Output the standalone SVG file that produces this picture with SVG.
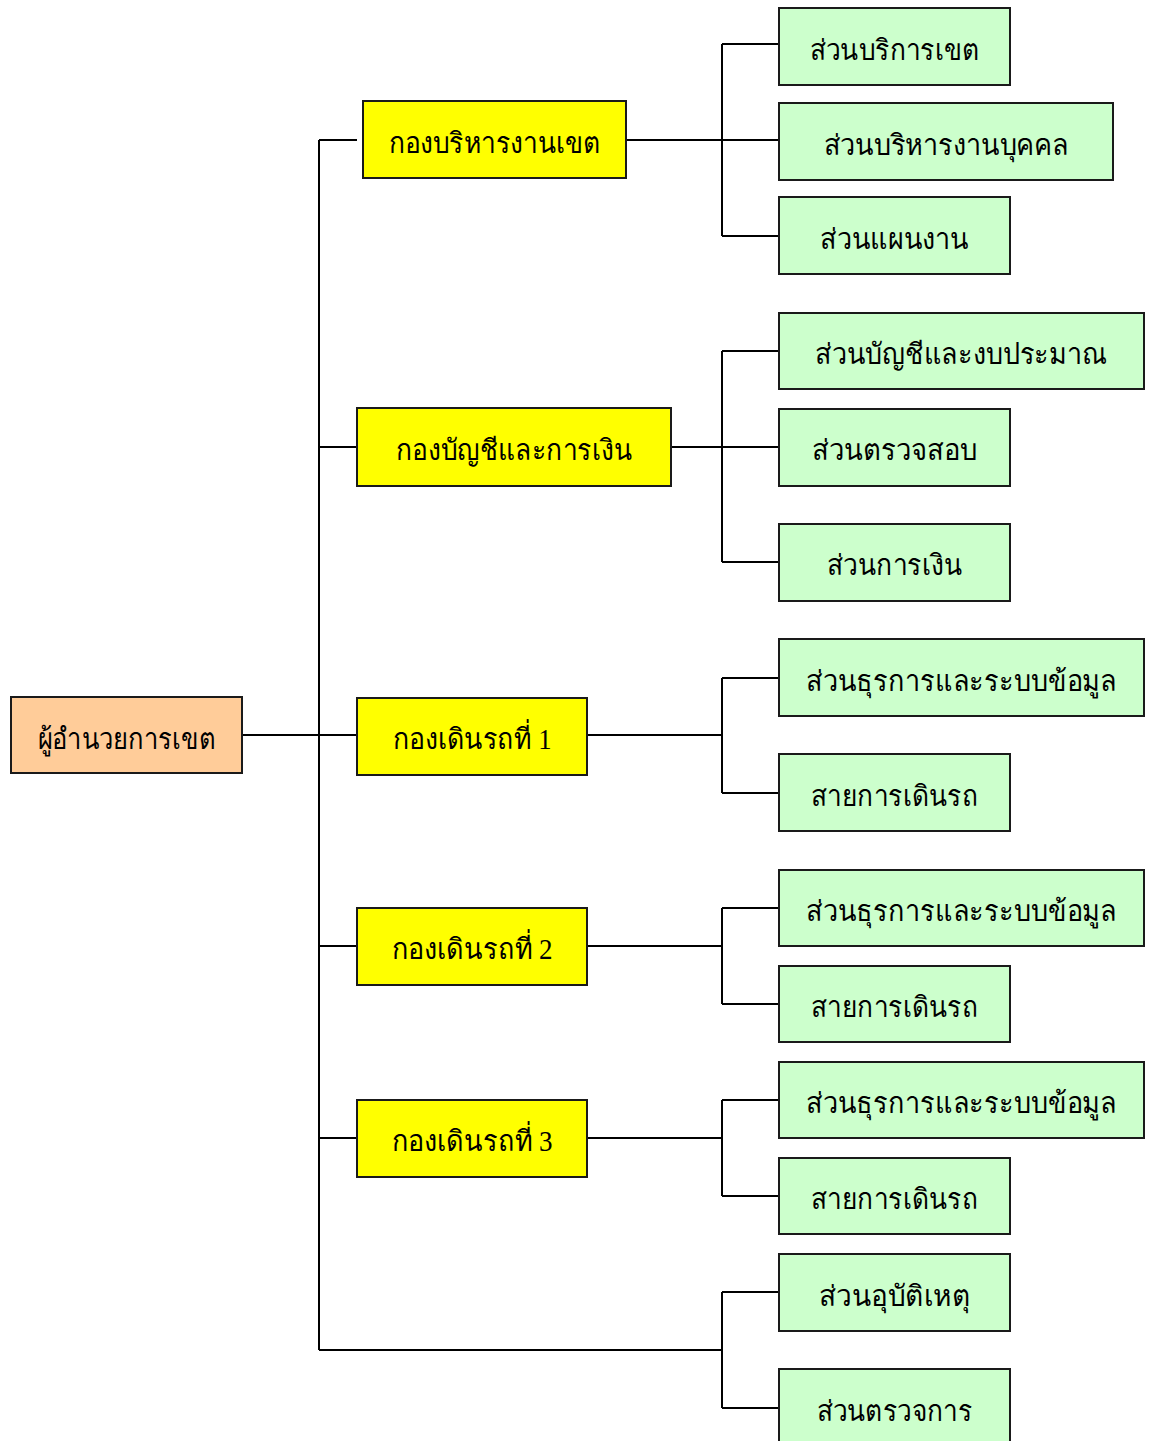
<svg xmlns="http://www.w3.org/2000/svg" width="1150" height="1441" viewBox="0 0 1150 1441">
<style>
.box{stroke:#1a1a1a;stroke-width:2}
.root{fill:#FFCC99}
.div{fill:#FFFF00}
.sec{fill:#CCFFCC}
.lbl{font-family:"Liberation Serif","Noto Sans","DejaVu Sans",serif;font-size:29px;fill:#000;text-anchor:middle}
.con{fill:none;stroke:#000;stroke-width:2}
</style>
<rect width="1150" height="1441" fill="#fff"/>
<g id="connectors">
<path class="con" d="M242 735H357M319 140V1350M319 140H357M319 447H357M319 946H357M319 1138H357M319 1350H722"/>
<path class="con" d="M626 140H779M722 44V236M722 44H779M722 236H779"/>
<path class="con" d="M664 447H779M722 351V562M722 351H779M722 562H779"/>
<path class="con" d="M587 735H722M722 678V793M722 678H779M722 793H779"/>
<path class="con" d="M587 946H722M722 908V1004M722 908H779M722 1004H779"/>
<path class="con" d="M587 1138H722M722 1100V1196M722 1100H779M722 1196H779"/>
<path class="con" d="M722 1292V1408M722 1292H779M722 1408H779"/>
</g>
<g id="root"><rect class="box root" x="11" y="697" width="231" height="76"/><text class="lbl" x="126.5" y="749" textLength="178" lengthAdjust="spacingAndGlyphs">ผู้อำนวยการเขต</text></g>
<g id="div1"><rect class="box div" x="363" y="101" width="263" height="77"/><text class="lbl" x="494.5" y="153" textLength="212" lengthAdjust="spacingAndGlyphs">กองบริหารงานเขต</text></g>
<g id="div2"><rect class="box div" x="357" y="408" width="314" height="78"/><text class="lbl" x="514" y="460" textLength="236" lengthAdjust="spacingAndGlyphs">กองบัญชีและการเงิน</text></g>
<g id="div3"><rect class="box div" x="357" y="698" width="230" height="77"/><text class="lbl" x="472" y="749" textLength="159" lengthAdjust="spacingAndGlyphs">กองเดินรถที่ 1</text></g>
<g id="div4"><rect class="box div" x="357" y="908" width="230" height="77"/><text class="lbl" x="472" y="959" textLength="161" lengthAdjust="spacingAndGlyphs">กองเดินรถที่ 2</text></g>
<g id="div5"><rect class="box div" x="357" y="1100" width="230" height="77"/><text class="lbl" x="472" y="1151" textLength="161" lengthAdjust="spacingAndGlyphs">กองเดินรถที่ 3</text></g>
<g id="sec1"><rect class="box sec" x="779" y="8" width="231" height="77"/><text class="lbl" x="894.5" y="60" textLength="170" lengthAdjust="spacingAndGlyphs">ส่วนบริการเขต</text></g>
<g id="sec2"><rect class="box sec" x="779" y="103" width="334" height="77"/><text class="lbl" x="946" y="155" textLength="245" lengthAdjust="spacingAndGlyphs">ส่วนบริหารงานบุคคล</text></g>
<g id="sec3"><rect class="box sec" x="779" y="197" width="231" height="77"/><text class="lbl" x="894.5" y="249" textLength="149" lengthAdjust="spacingAndGlyphs">ส่วนแผนงาน</text></g>
<g id="sec4"><rect class="box sec" x="779" y="313" width="365" height="76"/><text class="lbl" x="961" y="364" textLength="292" lengthAdjust="spacingAndGlyphs">ส่วนบัญชีและงบประมาณ</text></g>
<g id="sec5"><rect class="box sec" x="779" y="409" width="231" height="77"/><text class="lbl" x="894.5" y="460" textLength="166" lengthAdjust="spacingAndGlyphs">ส่วนตรวจสอบ</text></g>
<g id="sec6"><rect class="box sec" x="779" y="524" width="231" height="77"/><text class="lbl" x="894.5" y="575" textLength="135" lengthAdjust="spacingAndGlyphs">ส่วนการเงิน</text></g>
<g id="sec7"><rect class="box sec" x="779" y="639" width="365" height="77"/><text class="lbl" x="961.5" y="691" textLength="311" lengthAdjust="spacingAndGlyphs">ส่วนธุรการและระบบข้อมูล</text></g>
<g id="sec8"><rect class="box sec" x="779" y="754" width="231" height="77"/><text class="lbl" x="894.5" y="806" textLength="167" lengthAdjust="spacingAndGlyphs">สายการเดินรถ</text></g>
<g id="sec9"><rect class="box sec" x="779" y="870" width="365" height="76"/><text class="lbl" x="961.5" y="921" textLength="311" lengthAdjust="spacingAndGlyphs">ส่วนธุรการและระบบข้อมูล</text></g>
<g id="sec10"><rect class="box sec" x="779" y="966" width="231" height="76"/><text class="lbl" x="894.5" y="1017" textLength="167" lengthAdjust="spacingAndGlyphs">สายการเดินรถ</text></g>
<g id="sec11"><rect class="box sec" x="779" y="1062" width="365" height="76"/><text class="lbl" x="961.5" y="1113" textLength="311" lengthAdjust="spacingAndGlyphs">ส่วนธุรการและระบบข้อมูล</text></g>
<g id="sec12"><rect class="box sec" x="779" y="1158" width="231" height="76"/><text class="lbl" x="894.5" y="1209" textLength="167" lengthAdjust="spacingAndGlyphs">สายการเดินรถ</text></g>
<g id="sec13"><rect class="box sec" x="779" y="1254" width="231" height="77"/><text class="lbl" x="894.5" y="1306" textLength="151" lengthAdjust="spacingAndGlyphs">ส่วนอุบัติเหตุ</text></g>
<g id="sec14"><rect class="box sec" x="779" y="1369" width="231" height="80"/><text class="lbl" x="894.5" y="1421" textLength="156" lengthAdjust="spacingAndGlyphs">ส่วนตรวจการ</text></g>
</svg>
